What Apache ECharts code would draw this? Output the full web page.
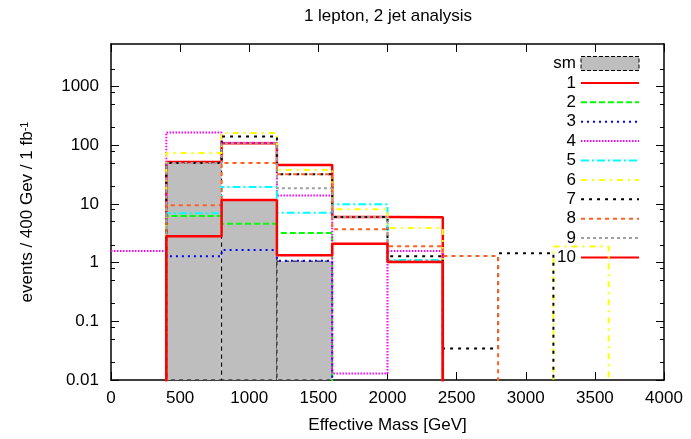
<!DOCTYPE html>
<html><head><meta charset="utf-8">
<script src="https://cdn.jsdelivr.net/npm/echarts@6/dist/echarts.min.js"></script>
<style>html,body{margin:0;padding:0;background:#fff}#c{width:691px;height:439px}</style>
</head><body><div id="c"></div>
<script>
// ---- data ----
const binEdges = [0, 400, 800, 1200, 1600, 2000, 2400, 2800, 3200, 3600];
const smValues = [0, 52, 11.7, 1.06, 0, 0, 0, 0, 0];
const s1  = [0, 52, 108, 46, 6.0, 5.9, 0, 0, 0];
const s2  = [0, 6.2, 4.6, 3.2, 0, 0, 0, 0, 0];
const s3  = [0, 1.28, 1.64, 1.08, 0, 0, 0, 0, 0];
const s4  = [1.58, 165, 110, 13.9, 0.0129, 1.58, 0, 0, 0];
const s5  = [0, 6.9, 19.5, 7.1, 9.9, 1.11, 0, 0, 0];
const s6  = [0, 74, 161, 38, 8.1, 3.9, 0, 0, 1.88];
const s7  = [0, 50, 141, 32, 6.0, 1.28, 0.0345, 1.44, 0];
const s8  = [0, 9.5, 50, 32, 3.7, 1.9, 1.3, 0, 0];
const s9  = [0, 50, 108, 18.5, 6.0, 1.08, 0, 0, 0];
const s10 = [0, 2.8, 11.7, 1.33, 2.1, 1.02, 0, 0, 0];
const seriesNames = ['1','2','3','4','5','6','7','8','9','10'];
const xTicks = [0, 500, 1000, 1500, 2000, 2500, 3000, 3500, 4000];
const yMajor = [0.01, 0.1, 1, 10, 100, 1000];
const yMinor = [0.02, 0.05, 0.08, 0.2, 0.5, 0.8, 2, 5, 8, 20, 50, 80, 200, 500, 800, 2000];

// ---- styling ----
const FONT = 'Liberation Sans, Arial, sans-serif';
const Y_MIN = 0.01, Y_MAX = 5300, FLOOR = 1e-4;
const styles = [
  {color:'#ff0000', width:2.5, type:'solid'},
  {color:'#00ff00', width:2, type:[6,3]},
  {color:'#0000ff', width:2, type:[2,4]},
  {color:'#ff00ff', width:2, type:[1.5,1.5]},
  {color:'#00ffff', width:2, type:[8,3,2,3]},
  {color:'#ffff00', width:2, type:[6,5,2,5]},
  {color:'#000000', width:2, type:[3,5]},
  {color:'#ff6020', width:2, type:[4,4]},
  {color:'#a0a0a0', width:2, type:[3,3]},
  {color:'#ff0000', width:2.5, type:'solid'}
];
const allVals = [s1,s2,s3,s4,s5,s6,s7,s8,s9,s10];

function stepPoints(vals){
  const pts = vals.map((v,i)=>[binEdges[i], v>0 ? v : FLOOR]);
  pts.push([binEdges[vals.length], FLOOR]);
  return pts;
}
const smBoxes = [];
smValues.forEach((v,i)=>{ if (v>0) smBoxes.push([binEdges[i], binEdges[i+1], v]); });

const axisLineStyle = {color:'#000', width:1.5};
const chart = echarts.init(document.getElementById('c'), null, {renderer:'canvas'});

const series = [{
  name:'sm', type:'custom', xAxisIndex:0, yAxisIndex:0,
  data: smBoxes, encode:{x:[0,1], y:2}, clip:true,
  renderItem:function(params, api){
    const p0 = api.coord([api.value(0), api.value(2)]);
    const p1 = api.coord([api.value(1), Y_MIN]);
    return {type:'rect', shape:{x:p0[0], y:p0[1], width:p1[0]-p0[0], height:p1[1]-p0[1]},
      style:{fill:'#bebebe', stroke:'#000', lineWidth:1, lineDash:[4,4]}};
  }
}];
allVals.forEach((vals,k)=>{
  series.push({
    name: seriesNames[k], type:'line', step:'end', xAxisIndex:0, yAxisIndex:0,
    data: stepPoints(vals), symbol:'none', showSymbol:false, clip:true, animation:false,
    lineStyle:{color:styles[k].color, width:styles[k].width, type:styles[k].type},
    itemStyle:{color:styles[k].color}, z: 3 + k
  });
});

const option = {
  animation:false,
  textStyle:{fontFamily:FONT},
  title:{text:'1 lepton, 2 jet analysis', left:388, top:8, textAlign:'center', padding:0,
    textStyle:{fontFamily:FONT, fontSize:17, fontWeight:'normal', color:'#000'}},
  grid:{left:111, right:27, top:44, bottom:58, containLabel:false},
  legend:{
    orient:'vertical', left:536, top:55, padding:0, align:'right',
    itemWidth:58, itemHeight:14, itemGap:2.4,
    itemStyle:{opacity:0},
    textStyle:{fontFamily:FONT, fontSize:17, color:'#000', width:40, align:'right', lineHeight:14},
    data:[{name:'sm', icon:'rect', itemStyle:{opacity:1, color:'#bebebe', borderColor:'#000', borderWidth:1, borderType:'dashed'}}]
      .concat(seriesNames.map(n=>({name:n})))
  },
  xAxis:[
    {type:'value', position:'bottom', min:0, max:4000, interval:500,
     axisLine:{lineStyle:axisLineStyle}, splitLine:{show:false},
     axisTick:{inside:true, length:8, lineStyle:{color:'#000', width:1}},
     axisLabel:{fontFamily:FONT, fontSize:17, color:'#000', margin:10, customValues:xTicks,
       formatter:function(v){ return String(v); }},
     name:'Effective Mass [GeV]', nameLocation:'middle', nameGap:37,
     nameTextStyle:{fontFamily:FONT, fontSize:17, color:'#000'}},
    {type:'value', position:'top', min:0, max:4000, interval:500,
     axisLine:{lineStyle:axisLineStyle}, splitLine:{show:false},
     axisTick:{inside:true, length:8, lineStyle:{color:'#000', width:1}},
     axisLabel:{show:false}}
  ],
  yAxis:[
    {type:'log', logBase:10, min:Y_MIN, max:Y_MAX, position:'left',
     axisLine:{show:true, lineStyle:axisLineStyle}, splitLine:{show:false},
     axisTick:{inside:true, length:8, customValues:yMajor, lineStyle:{color:'#000', width:1}},
     axisLabel:{fontFamily:FONT, fontSize:17, color:'#000', margin:12, customValues:yMajor,
       formatter:function(v){ return String(+v.toPrecision(6)); }},
     name:'events / 400 Gev / 1 fb{sup|-1}', nameLocation:'middle', nameGap:75, nameRotate:90,
     nameTextStyle:{fontFamily:FONT, fontSize:17, color:'#000',
       rich:{sup:{fontFamily:FONT, fontSize:11, color:'#000', verticalAlign:'top'}}}},
    {type:'log', logBase:10, min:Y_MIN, max:Y_MAX, position:'left',
     axisLine:{show:false}, splitLine:{show:false}, axisLabel:{show:false},
     axisTick:{show:true, inside:true, length:4, customValues:yMinor, lineStyle:{color:'#000', width:1}}},
    {type:'log', logBase:10, min:Y_MIN, max:Y_MAX, position:'right',
     axisLine:{show:true, lineStyle:axisLineStyle}, splitLine:{show:false}, axisLabel:{show:false},
     axisTick:{show:true, inside:true, length:8, customValues:yMajor, lineStyle:{color:'#000', width:1}}},
    {type:'log', logBase:10, min:Y_MIN, max:Y_MAX, position:'right',
     axisLine:{show:false}, splitLine:{show:false}, axisLabel:{show:false},
     axisTick:{show:true, inside:true, length:4, customValues:yMinor, lineStyle:{color:'#000', width:1}}}
  ],
  series: series
};
chart.setOption(option);
</script></body></html>
